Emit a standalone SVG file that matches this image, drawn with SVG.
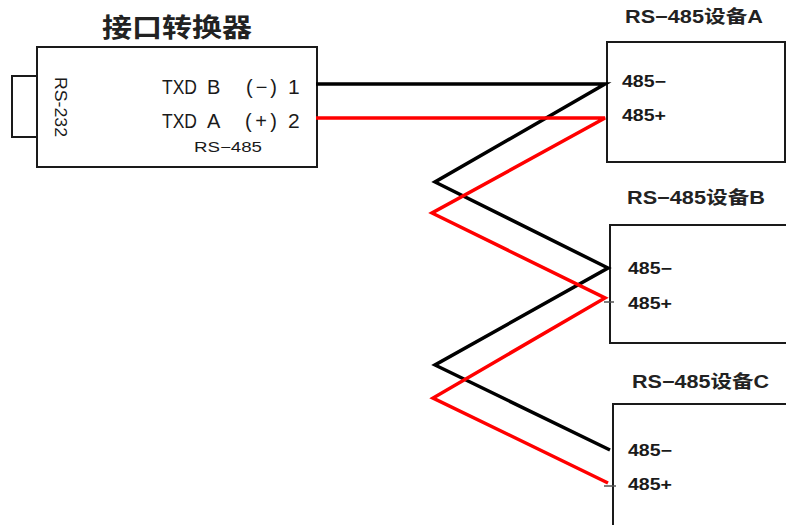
<svg xmlns="http://www.w3.org/2000/svg" width="786" height="525" viewBox="0 0 786 525">
<style>
.box{fill:#fff;stroke:#1a1a1a;stroke-width:2}
.title{font-family:"Liberation Sans","Noto Sans CJK SC",sans-serif;font-weight:bold;fill:#222}
.lbl{font-family:"Liberation Sans","Noto Sans CJK SC",sans-serif;fill:#1a1a1a}
.term{font-family:"Liberation Sans",sans-serif;font-weight:bold;font-size:16px;fill:#1a1a1a}
.wire{fill:none;stroke-width:3.5;stroke-linejoin:miter}
.tick{stroke:#555;stroke-width:1.5}
</style>
<rect width="786" height="525" fill="#fff"/>
<g id="converter">
<text class="title" x="102" y="37" font-size="26" textLength="150" lengthAdjust="spacingAndGlyphs" font-family="Noto Sans CJK SC,sans-serif">接口转换器</text>
<rect class="box" x="12" y="76" width="25" height="61"/>
<rect class="box" x="37" y="47" width="280" height="120"/>
<text class="lbl" font-size="16" transform="translate(55,77) rotate(90)" textLength="60" lengthAdjust="spacingAndGlyphs">RS-232</text>
<text class="lbl" font-size="20" y="94"><tspan x="162" textLength="35" lengthAdjust="spacingAndGlyphs">TXD</tspan><tspan x="207">B</tspan><tspan x="246" textLength="31" lengthAdjust="spacing">(−)</tspan><tspan x="288" font-size="21">1</tspan></text>
<text class="lbl" font-size="20" y="128"><tspan x="162" textLength="35" lengthAdjust="spacingAndGlyphs">TXD</tspan><tspan x="207">A</tspan><tspan x="245" textLength="32" lengthAdjust="spacing">(+)</tspan><tspan x="288" font-size="21">2</tspan></text>
<text class="lbl" font-size="14" x="194" y="152" textLength="68" lengthAdjust="spacingAndGlyphs">RS−485</text>
</g>
<g id="deviceA">
<text class="title" x="625" y="23" font-size="18" textLength="138" lengthAdjust="spacingAndGlyphs">RS−485设备A</text>
<rect class="box" x="607" y="42" width="178" height="120"/>
<text class="term" x="622" y="87" textLength="44" lengthAdjust="spacingAndGlyphs">485−</text>
<text class="term" x="622" y="121" textLength="44" lengthAdjust="spacingAndGlyphs">485+</text>
</g>
<g id="deviceB">
<text class="title" x="627" y="204" font-size="18" textLength="138" lengthAdjust="spacingAndGlyphs">RS−485设备B</text>
<rect class="box" x="610" y="225" width="190" height="118"/>
<text class="term" x="628" y="274" textLength="44" lengthAdjust="spacingAndGlyphs">485−</text>
<text class="term" x="628" y="309" textLength="44" lengthAdjust="spacingAndGlyphs">485+</text>
</g>
<g id="deviceC">
<text class="title" x="632" y="388" font-size="18" textLength="137" lengthAdjust="spacingAndGlyphs">RS−485设备C</text>
<rect class="box" x="613" y="404" width="190" height="130"/>
<text class="term" x="628" y="456" textLength="44" lengthAdjust="spacingAndGlyphs">485−</text>
<text class="term" x="628" y="490" textLength="44" lengthAdjust="spacingAndGlyphs">485+</text>
</g>
<g id="connectors">
<path class="wire" stroke="#000" d="M316,84 L605,84 L435,182 L608,268 L435,365 L610,450"/>
<path class="wire" stroke="#f00" d="M316,118 L605,118 L432,213 L605,298 L433,398 L608,483"/>
<line class="tick" x1="604" y1="302" x2="614" y2="302"/>
<line class="tick" x1="604" y1="486" x2="616" y2="486"/>
</g>
</svg>
